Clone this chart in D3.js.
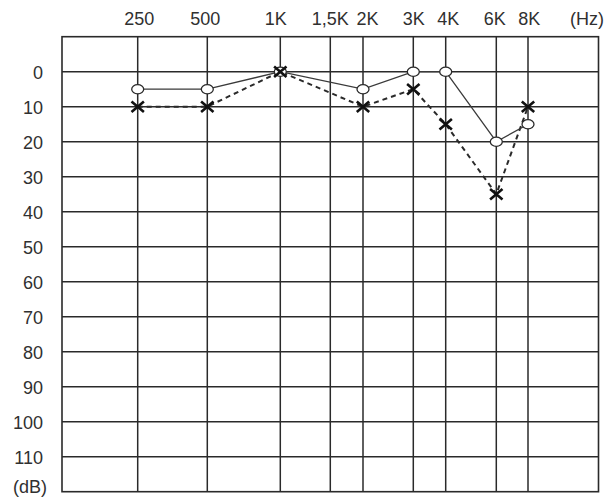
<!DOCTYPE html>
<html>
<head>
<meta charset="utf-8">
<script src="https://cdn.jsdelivr.net/npm/d3@7"></script>
<style>
  html, body { margin: 0; padding: 0; background: #fff; }
  svg text { font-family: "Liberation Sans", Arial, sans-serif; font-size: 18px; fill: #303030; }
</style>
</head>
<body>
<svg id="chart" width="616" height="501"></svg>
<script>
// ---- data ----
const freqs      = [250, 500, 1000, 1500, 2000, 3000, 4000, 6000, 8000];
const freqLabels = ["250", "500", "1K", "1,5K", "2K", "3K", "4K", "6K", "8K"];
const dbTicks    = [0, 10, 20, 30, 40, 50, 60, 70, 80, 90, 100, 110];
const measFreqs  = [250, 500, 1000, 2000, 3000, 4000, 6000, 8000];
const circleDb   = [5, 5, 0, 5, 0, 0, 20, 15];     // O, solid line
const crossDb    = [10, 10, 0, 10, 5, 15, 35, 10];  // X, dashed line

(function () {
// ---- layout ----
const svg = d3.select("#chart");
const pLeft = 62, pRight = 598.5, pTop = 36.7, pBottom = 491.7;
// grid column positions (layout constants for the scale's range)
const colPos = [137.7, 207.3, 280.3, 330.3, 363, 413.3, 445.7, 496.3, 528];
// small horizontal nudges of the top labels, as in the reference
const labelShift = [1.5, -2, -4.5, 0, 4.5, 0.5, 2.5, -1.5, 1.3];

const x = d3.scaleLog().domain(freqs).range(colPos);
const y = d3.scaleLinear().domain([-10, 120]).range([pTop, pBottom]);

const gridColor = "#2a2a2a";

// frame
svg.append("rect")
  .attr("x", pLeft).attr("y", pTop)
  .attr("width", pRight - pLeft).attr("height", pBottom - pTop)
  .attr("fill", "none").attr("stroke", gridColor).attr("stroke-width", 1.6);

// vertical grid
svg.append("g").selectAll("line").data(freqs).join("line")
  .attr("x1", d => x(d)).attr("x2", d => x(d))
  .attr("y1", pTop).attr("y2", pBottom)
  .attr("stroke", gridColor).attr("stroke-width", 1.5);

// horizontal grid
svg.append("g").selectAll("line").data(dbTicks).join("line")
  .attr("x1", pLeft).attr("x2", pRight)
  .attr("y1", d => y(d)).attr("y2", d => y(d))
  .attr("stroke", gridColor).attr("stroke-width", 1.5);

// top labels
svg.append("g").selectAll("text").data(freqs).join("text")
  .attr("x", (d, i) => x(d) + labelShift[i]).attr("y", 18.5)
  .attr("text-anchor", "middle").attr("dominant-baseline", "central")
  .text((d, i) => freqLabels[i]);
svg.append("text").attr("x", 587).attr("y", 18.5)
  .attr("text-anchor", "middle").attr("dominant-baseline", "central")
  .text("(Hz)");

// left labels
svg.append("g").selectAll("text").data(dbTicks).join("text")
  .attr("x", 43).attr("y", d => y(d) + 1)
  .attr("text-anchor", "end").attr("dominant-baseline", "central")
  .text(d => d);
svg.append("text").attr("x", 47).attr("y", y(120) - 5)
  .attr("text-anchor", "end").attr("dominant-baseline", "central")
  .text("(dB)");

// lines
const circlePts = measFreqs.map((f, i) => [f, circleDb[i]]);
const crossPts  = measFreqs.map((f, i) => [f, crossDb[i]]);
const line = d3.line().x(d => x(d[0])).y(d => y(d[1]));

svg.append("path").datum(crossPts).attr("d", line)
  .attr("fill", "none").attr("stroke", "#2a2a2a")
  .attr("stroke-width", 2).attr("stroke-dasharray", "5,4");

svg.append("path").datum(circlePts).attr("d", line)
  .attr("fill", "none").attr("stroke", "#3a3a3a").attr("stroke-width", 1.3);

// circles
svg.append("g").selectAll("ellipse").data(circlePts).join("ellipse")
  .attr("cx", d => x(d[0])).attr("cy", d => y(d[1]))
  .attr("rx", 6).attr("ry", 4.6)
  .attr("fill", "#fff").attr("stroke", "#2a2a2a").attr("stroke-width", 1.3);

// crosses
const s = 6.2;
svg.append("g").selectAll("path").data(crossPts).join("path")
  .attr("d", d => {
    const cx = x(d[0]), cy = y(d[1]);
    return `M${cx - s},${cy - s * 0.85}L${cx + s},${cy + s * 0.85}M${cx - s},${cy + s * 0.85}L${cx + s},${cy - s * 0.85}`;
  })
  .attr("fill", "none").attr("stroke", "#111").attr("stroke-width", 2.6);
})();
</script>
</body>
</html>
